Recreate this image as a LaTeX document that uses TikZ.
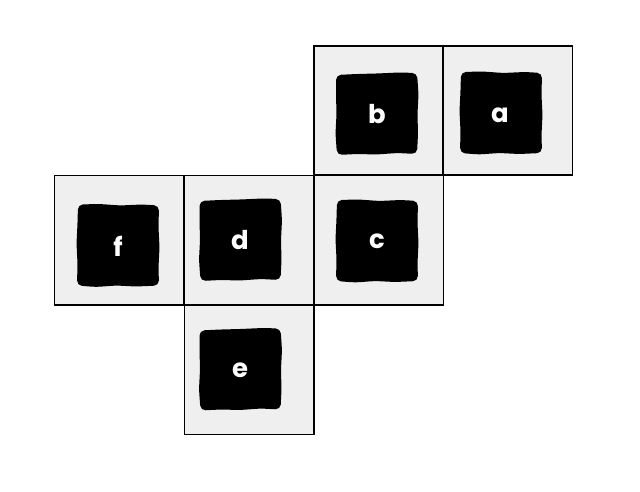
\documentclass[tikz,border=0pt]{standalone}
\usepackage{fontspec}
\setmainfont{Poppins}
\definecolor{cellgray}{HTML}{EFEFEF}
\tikzset{
  cell/.style={draw=black, line width=1.6bp, fill=cellgray, minimum size=129.5bp, inner sep=0pt, outer sep=0pt},
  lbl/.style={text=white, font=\bfseries\fontsize{26}{26}\selectfont, inner sep=0pt},
  blobfill/.style={fill=black, rounded corners=5bp}
}
\newcommand\blobA[2]{\path[blobfill, shift={(#1,#2)}] (-41,-39) -- (-20,-40) -- (0,-40.5) -- (22,-41.5) -- (40,-41) -- (41.5,-20) -- (40.5,0) -- (41,20) -- (40,40) -- (20,39) -- (0,40.5) -- (-20,40) -- (-40,41) -- (-41.5,20) -- (-40.5,0) -- (-41,-20) -- cycle;}
\newcommand\blobB[2]{\path[blobfill, shift={(#1,#2)}] (-40,-41) -- (-18,-41.5) -- (2,-40) -- (24,-41) -- (41,-40) -- (40.5,-18) -- (41.5,2) -- (40.5,22) -- (41,40) -- (18,41) -- (-2,40) -- (-22,41.5) -- (-41,40) -- (-40.5,18) -- (-41.5,-2) -- (-40.5,-22) -- cycle;}
\begin{document}
\begin{tikzpicture}[x=1bp,y=-1bp]
\useasboundingbox (0,0) rectangle (640,492);
\node[cell] (cb) at (378.9,110.5) {};
\node[cell] (ca) at (507.8,110.5) {};
\node[cell] (cf) at (119.4,240.3) {};
\node[cell] (cd) at (249.2,240.3) {};
\node[cell] (cc) at (378.9,240.3) {};
\node[cell] (ce) at (249.2,369.8) {};
\blobA{377}{114}
\blobB{501}{113}
\blobB{118}{245.5}
\blobA{240.5}{240}
\blobB{377}{241}
\blobA{240.5}{369.5}
\node[lbl] (b) at (377,114) {b};
\node[lbl] (a) at (500,115) {a};
\node[lbl] (f) at (118,246) {f};
\node[lbl] (d) at (240,240) {d};
\node[lbl] (c) at (377,241) {c};
\node[lbl] (e) at (240,370) {e};
\end{tikzpicture}
\end{document}
